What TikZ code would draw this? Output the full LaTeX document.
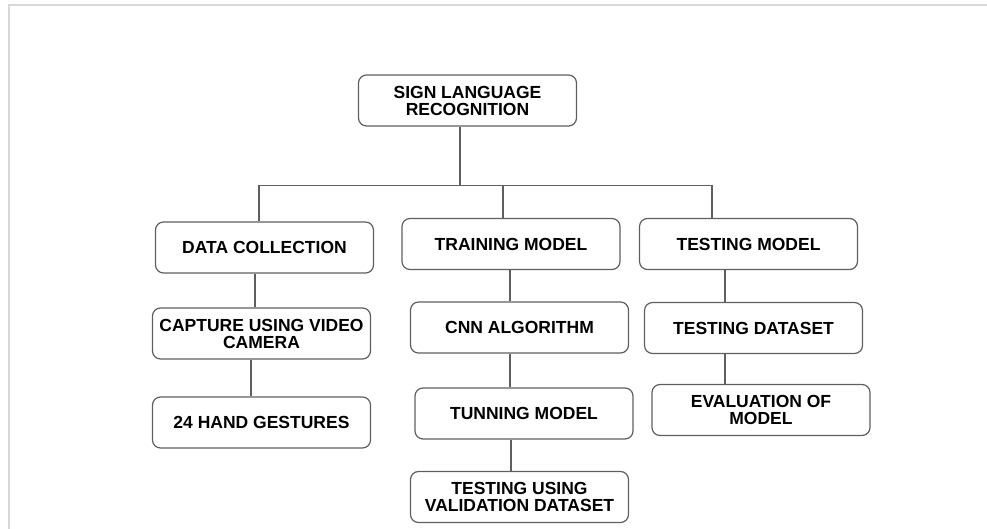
\documentclass[tikz,border=0pt]{standalone}
\usepackage{fontspec}
\setmainfont{Liberation Sans}
\usepackage{xcolor}
\usepackage{tikz}
\definecolor{boxgray}{RGB}{95,95,95}
\definecolor{framegray}{RGB}{215,215,215}
\tikzstyle{block} = [draw=boxgray, line width=1.2pt, rounded corners=8pt, minimum width=218pt, minimum height=51pt, inner sep=2pt, align=center, font=\fontsize{17.5}{17}\selectfont\bfseries]
\tikzstyle{link} = [draw=boxgray, line width=1.2pt]

\begin{document}
\begin{tikzpicture}[node distance=86pt]
		\useasboundingbox (0,0) rectangle (987pt,-529pt);
		\draw [framegray, line width=2pt] (987pt,-5pt) -- (8.5pt,-5pt) -- (8.5pt,-529pt);
		
		\node (root) [block] at (467.5pt,-100.5pt) {SIGN LANGUAGE\\RECOGNITION};
		\node (data) [block] at (264.5pt,-247.5pt) {DATA COLLECTION};
		\node (train) [block] at (511pt,-244pt) {TRAINING MODEL};
		\node (test) [block] at (748.5pt,-244pt) {TESTING MODEL};
		\node (capture) [block, below of=data, xshift=-3pt] {CAPTURE USING VIDEO\\CAMERA};
		\node (hand) [block, below of=capture, yshift=-3pt] {24 HAND GESTURES};
		\node (cnn) [block, below of=train, xshift=8.5pt, yshift=2.5pt] {CNN ALGORITHM};
		\node (tune) [block, below of=cnn, xshift=4.5pt] {TUNNING MODEL};
		\node (valid) [block, below of=tune, xshift=-4.5pt, yshift=2.5pt] {TESTING USING\\VALIDATION DATASET};
		\node (tdata) [block, below of=test, xshift=5pt, yshift=2pt] {TESTING DATASET};
		\node (eval) [block, below of=tdata, xshift=7.5pt, yshift=4pt] {EVALUATION OF\\MODEL};
		
		\draw [link] ([xshift=-7.5pt]root.south) -- ++(0,-59pt) coordinate (bus);
		\draw [link] ([xshift=-5.5pt]data.north) |- (bus) -| ([xshift=-36.5pt]test.north);
		\draw [link] ([xshift=-8pt]train.north) -- ([xshift=-8pt]train.north |- bus);
		\draw [link] ([xshift=-9.5pt]data.south) -- ([xshift=-6.5pt]capture.north);
		\draw [link] ([xshift=-10.5pt]capture.south) -- ([xshift=-10.5pt]hand.north);
		\draw [link] ([xshift=-1pt]train.south) -- ([xshift=-9.5pt]cnn.north);
		\draw [link] ([xshift=-9.5pt]cnn.south) -- ([xshift=-14pt]tune.north);
		\draw [link] ([xshift=-13pt]tune.south) -- ([xshift=-8.5pt]valid.north);
		\draw [link] ([xshift=-23.5pt]test.south) -- ([xshift=-28.5pt]tdata.north);
		\draw [link] ([xshift=-28.5pt]tdata.south) -- ([xshift=-36pt]eval.north);
	\end{tikzpicture}
\end{document}
